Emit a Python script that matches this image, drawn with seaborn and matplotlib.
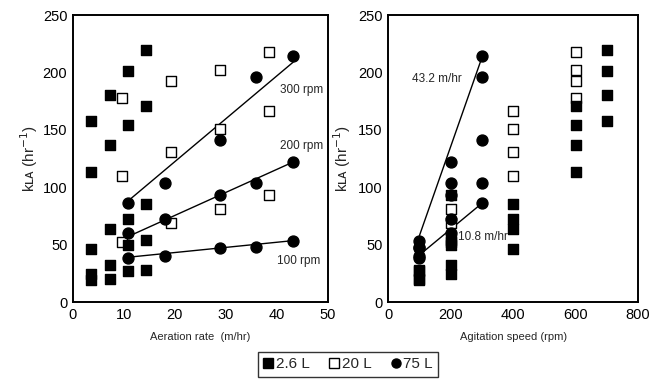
import numpy as np
import pandas as pd
import matplotlib
matplotlib.use("Agg")
import matplotlib.pyplot as plt
import seaborn as sns
from matplotlib.lines import Line2D

# ---------------- data ----------------
aer_26L = [3.6, 7.2, 10.8, 14.4]
kla_26L_100rpm = [19, 20, 27, 28]
kla_26L_200rpm = [24, 32, 50, 54]
kla_26L_400rpm = [46, 64, 72, 85]
kla_26L_600rpm = [113, 137, 154, 171]
kla_26L_700rpm = [158, 180, 201, 220]

aer_20L = [9.6, 19.2, 28.8, 38.4]
kla_20L_200rpm = [52, 69, 81, 93]
kla_20L_400rpm = [110, 131, 151, 166]
kla_20L_600rpm = [178, 193, 202, 218]

aer_75L = [10.8, 18.0, 28.8, 36.0, 43.2]
kla_75L_100rpm = [38, 40, 47, 48, 53]
kla_75L_200rpm = [60, 72, 93, 104, 122]
kla_75L_300rpm = [86, 104, 141, 196, 214]

# fitted lines (end points)
fit_aer = [10.8, 43.2]
fit_100rpm = [39, 53.5]
fit_200rpm = [57, 122]
fit_300rpm = [88, 209]
fit_rpm = [100, 300]
fit_10_8 = [41, 86]
fit_43_2 = [58, 213]

volumes = ["2.6 L", "20 L", "75 L"]
draw_order = ["20 L", "2.6 L", "75 L"]

rows = []
for rpm, vals in [(100, kla_26L_100rpm), (200, kla_26L_200rpm), (400, kla_26L_400rpm),
                  (600, kla_26L_600rpm), (700, kla_26L_700rpm)]:
    for a, k in zip(aer_26L, vals):
        rows.append(("2.6 L", a, rpm, k))
for rpm, vals in [(200, kla_20L_200rpm), (400, kla_20L_400rpm), (600, kla_20L_600rpm)]:
    for a, k in zip(aer_20L, vals):
        rows.append(("20 L", a, rpm, k))
for rpm, vals in [(100, kla_75L_100rpm), (200, kla_75L_200rpm), (300, kla_75L_300rpm)]:
    for a, k in zip(aer_75L, vals):
        rows.append(("75 L", a, rpm, k))
df = pd.DataFrame(rows, columns=["vol", "aer", "rpm", "kla"])

# ---------------- style ----------------
sns.set_style("white")
plt.rcParams["font.family"] = ["Liberation Sans", "DejaVu Sans"]

fig = plt.figure(figsize=(6.57, 3.87), dpi=100)
axL = fig.add_axes([0.111, 0.2196, 0.388, 0.7414])
axR = fig.add_axes([0.591, 0.2196, 0.380, 0.7414])

styles = {
    "2.6 L": dict(marker="s", facecolor="black", edgecolor="black"),
    "20 L": dict(marker="s", facecolor="white", edgecolor="black"),
    "75 L": dict(marker="o", facecolor="black", edgecolor="black"),
}

def draw(ax, xcol):
    for i, v in enumerate(draw_order):
        sub = df[df.vol == v]
        st = styles[v]
        sns.scatterplot(data=sub, x=xcol, y="kla", ax=ax, marker=st["marker"],
                        color=st["facecolor"], edgecolor=st["edgecolor"],
                        linewidth=1.0, s=62, zorder=3 + i, legend=False)

for yy in [fit_100rpm, fit_200rpm, fit_300rpm]:
    sns.lineplot(x=fit_aer, y=yy, ax=axL, color="black", lw=1.0, zorder=2)
draw(axL, "aer")
for yy in [fit_10_8, fit_43_2]:
    sns.lineplot(x=fit_rpm, y=yy, ax=axR, color="black", lw=1.0, zorder=2)
draw(axR, "rpm")

for ax, xlim, xt, xl, ylx in [(axL, (0, 50), np.arange(0, 51, 10), "Aeration rate  (m/hr)", -0.13),
                              (axR, (0, 800), np.arange(0, 801, 200), "Agitation speed (rpm)", -0.143)]:
    ax.set_xlim(*xlim)
    ax.set_ylim(0, 250)
    ax.set_xticks(xt)
    ax.set_yticks(np.arange(0, 251, 50))
    ax.tick_params(axis="both", labelsize=10.5, direction="in", length=4, width=0.8,
                   colors="black", pad=4)
    for sp in ax.spines.values():
        sp.set_color("black")
        sp.set_linewidth(1.4)
    ax.set_xlabel(xl, fontsize=8)
    ax.set_ylabel("kʟᴀ (hr$^{-1}$)", fontsize=11)
    ax.xaxis.set_label_coords(0.5, -0.105)
    ax.yaxis.set_label_coords(ylx, 0.5)

axL.text(40.6, 185, "300 rpm", fontsize=8.5, va="center", ha="left")
axL.text(40.6, 136, "200 rpm", fontsize=8.5, va="center", ha="left")
axL.text(40.1, 35.6, "100 rpm", fontsize=8.5, va="center", ha="left")
axR.text(75, 194.5, "43.2 m/hr", fontsize=8.5, va="center", ha="left")
axR.text(224, 57, "10.8 m/hr", fontsize=8.5, va="center", ha="left")

handles = [Line2D([], [], ls="none", marker=styles[v]["marker"],
                  markerfacecolor=styles[v]["facecolor"], markeredgecolor="black",
                  markersize=6.5, markeredgewidth=1.0) for v in volumes]
leg = fig.legend(handles, ["2.6 L", "20 L", "75 L"], loc="upper center",
                 bbox_to_anchor=(0.53, 1 - 352 / 387), ncol=3, frameon=True,
                 fancybox=False, fontsize=11, handlelength=0.6, handletextpad=0.2,
                 columnspacing=1.3, borderpad=0.35, borderaxespad=0)
leg.get_frame().set_edgecolor("black")
leg.get_frame().set_linewidth(1.0)

fig.savefig("out.png", dpi=100)
